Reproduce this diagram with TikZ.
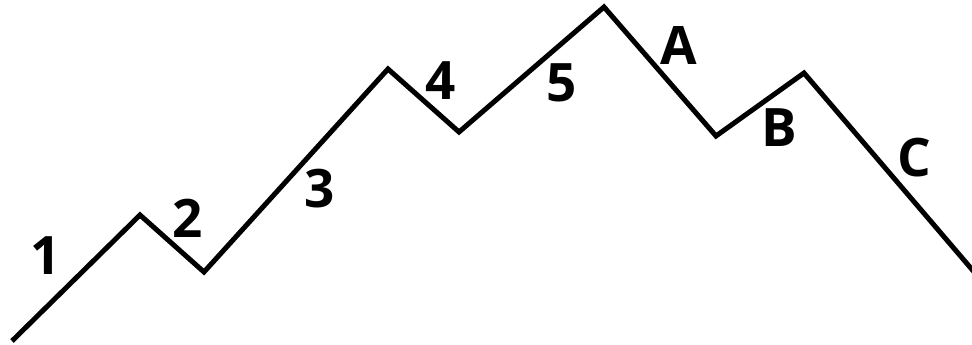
\documentclass[tikz,border=0pt]{standalone}
\usepackage{fontspec}
\setmainfont{Open Sans}
\usepackage{tikz}

\tikzset{
  onda/.style={line width=5pt, line join=miter},
  rotulo/.style={inner sep=0pt, font=\fontsize{53}{53}\selectfont\bfseries}
}

\begin{document}
\begin{tikzpicture}[x=1pt,y=-1pt]

\useasboundingbox (0,0) rectangle (972,345);

% pontos da onda
\coordinate (w0) at (12,341);
\coordinate (w1) at (140,215);
\coordinate (w2) at (204,272);
\coordinate (w3) at (388,69);
\coordinate (w4) at (459,132);
\coordinate (w5) at (604,7);
\coordinate (w6) at (716,136);
\coordinate (w7) at (804,73);
\coordinate (w8) at (975,273);

\draw[onda] (w0) -- (w1) -- (w2) -- (w3) -- (w4) -- (w5) -- (w6) -- (w7) -- (w8);

% impulso
\node[rotulo] (l1) at (46,256) {1};
\node[rotulo] (l2) at (188,218) {2};
\node[rotulo] (l3) at (320,189) {3};
\node[rotulo] (l4) at (441,81) {4};
\node[rotulo] (l5) at (562,83) {5};

% correcao
\node[rotulo] (lA) at (679,46) {A};
\node[rotulo] (lB) at (779,128) {B};
\node[rotulo] (lC) at (914,158) {C};

\end{tikzpicture}
\end{document}
